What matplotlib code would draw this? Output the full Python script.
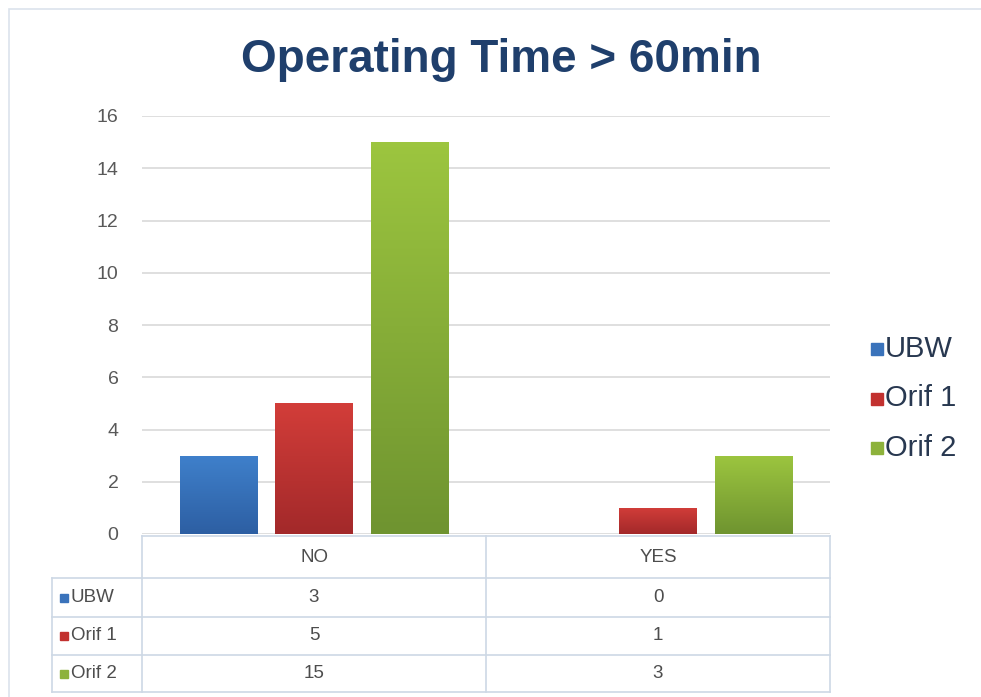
import matplotlib.pyplot as plt
import numpy as np
from matplotlib import transforms
from matplotlib.colors import LinearSegmentedColormap
from matplotlib.lines import Line2D
from matplotlib.patches import Rectangle

categories = ["NO", "YES"]
series_names = ["UBW", "Orif 1", "Orif 2"]
ubw = [3, 0]
orif1 = [5, 1]
orif2 = [15, 3]
y_ticks = [0, 2, 4, 6, 8, 10, 12, 14, 16]

# top (light) and bottom (dark) colours of each series' gradient
top_colors = ["#3f80cb", "#d23d39", "#9cc53f"]
bottom_colors = ["#2d5fa3", "#a3292a", "#6f9430"]
legend_colors = ["#3a73bb", "#c2312f", "#8db23b"]

W, H = 981, 697
plt.rcParams["font.family"] = ["Liberation Sans", "DejaVu Sans"]


def fx(px):
    return px / W


def fy(py):
    return 1 - py / H


def main():
    fig = plt.figure(figsize=(W / 100, H / 100), dpi=100)
    fig.patch.set_facecolor("white")

    # outer chart frame
    fig.add_artist(Rectangle((fx(9), fy(700)), fx(990), fy(9) - fy(700),
                             transform=fig.transFigure, fill=False,
                             edgecolor="#dbe3ec", linewidth=1.2))

    ax = fig.add_axes([fx(142), fy(534), fx(830) - fx(142), fy(116) - fy(534)])
    ax.set_xlim(-0.5, len(categories) - 0.5)
    ax.set_ylim(0, 16)
    for s in ax.spines.values():
        s.set_visible(False)
    ax.set_xticks([])
    ax.set_yticks(y_ticks)
    ax.tick_params(axis="y", length=0, pad=17, labelsize=14, labelcolor="#595959")
    ax.grid(axis="y", color="#d9d9d9", linewidth=1.2)
    ax.set_axisbelow(True)

    series = [ubw, orif1, orif2]
    x = np.arange(len(categories))
    width = 0.225
    offsets = [-0.277, 0.0, 0.277]
    for vals, off, c_top, c_bot in zip(series, offsets, top_colors, bottom_colors):
        bars = ax.bar(x + off, vals, width, color="none", edgecolor="none", zorder=3)
        cmap = LinearSegmentedColormap.from_list("g", [c_bot, c_top])
        for b in bars:
            h = b.get_height()
            if h <= 0:
                continue
            x0 = b.get_x()
            grad = np.linspace(1, 0, 64).reshape(-1, 1)
            im = ax.imshow(grad, cmap=cmap, extent=[x0, x0 + b.get_width(), 0, h],
                           aspect="auto", zorder=3, interpolation="bilinear")
            im.set_clip_path(b)
    ax.set_xlim(-0.5, len(categories) - 0.5)
    ax.set_ylim(0, 16)

    fig.text(fx(501), fy(72), "Operating Time > 60min", ha="center", va="baseline",
             fontsize=33, fontweight="bold", color="#1f3f6c")

    # data table under the plot
    trans = transforms.blended_transform_factory(ax.transData, fig.transFigure)
    line_c = "#cdd8e5"
    left_edge = -0.5 - (142 - 52) / 344
    x_right = len(categories) - 0.5
    row_y = [536, 578, 617, 655, 692]
    for i, yy in enumerate(row_y):
        xs = -0.5 if i == 0 else left_edge
        fig.add_artist(Line2D([xs, x_right], [fy(yy), fy(yy)], transform=trans,
                              color=line_c, linewidth=1.2))
    fig.add_artist(Line2D([left_edge, left_edge], [fy(578), fy(692)], transform=trans,
                          color=line_c, linewidth=1.2))
    for xb in np.arange(len(categories) + 1) - 0.5:
        fig.add_artist(Line2D([xb, xb], [fy(536), fy(692)], transform=trans,
                              color=line_c, linewidth=1.2))

    txt_c = "#4d4d4d"
    for i, cat in enumerate(categories):
        fig.text(i, fy(557), cat, transform=trans, ha="center", va="center",
                 fontsize=13.5, color=txt_c)
    for r, (name, vals, lc) in enumerate(zip(series_names, series, legend_colors)):
        yc = (row_y[r + 1] + row_y[r + 2]) / 2
        for i, v in enumerate(vals):
            fig.text(i, fy(yc), str(v), transform=trans, ha="center", va="center",
                     fontsize=13.5, color=txt_c)
        fig.add_artist(Rectangle((fx(60), fy(yc + 4)), fx(8), fy(yc - 4) - fy(yc + 4),
                                 transform=fig.transFigure, color=lc))
        fig.text(fx(71), fy(yc), name, ha="left", va="center", fontsize=13.5, color=txt_c)

    # legend on the right
    for k, (name, lc) in enumerate(zip(series_names, legend_colors)):
        yc = 349 + k * 49.5
        fig.add_artist(Rectangle((fx(871), fy(yc + 6)), fx(12), fy(yc - 6) - fy(yc + 6),
                                 transform=fig.transFigure, color=lc))
        fig.text(fx(885), fy(yc), name, ha="left", va="center", fontsize=21,
                 color="#283850")

    fig.savefig("out.png", dpi=100)


if __name__ == "__main__":
    main()
